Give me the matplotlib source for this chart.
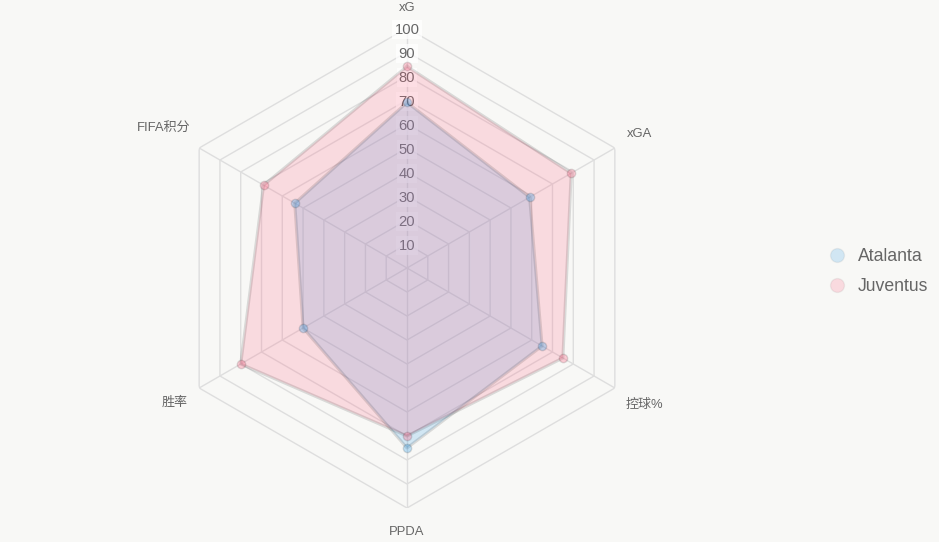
import numpy as np
import matplotlib
matplotlib.use("Agg")
import matplotlib.pyplot as plt
from matplotlib.lines import Line2D

plt.rcParams['font.family'] = ['Liberation Sans', 'Noto Sans CJK SC', 'DejaVu Sans']

# ---- data ----
categories = ['xG', 'xGA', '控球%', 'PPDA', '胜率', 'FIFA积分']
atalanta = [69, 59, 65, 75, 50, 54]
juventus = [84, 79, 75, 70, 80, 69]
series_names = ['Atalanta', 'Juventus']
tick_values = [10, 20, 30, 40, 50, 60, 70, 80, 90, 100]

# ---- style ----
bg = '#f8f8f6'
grid_c = '#dedede'
text_c = '#666666'
fills = [(54/255, 162/255, 235/255, 0.2), (255/255, 99/255, 132/255, 0.2)]
pts = [(54/255, 162/255, 235/255, 0.3), (255/255, 99/255, 132/255, 0.3)]
border = (0, 0, 0, 0.12)

W, H = 939, 542
fig = plt.figure(figsize=(W/100, H/100), dpi=100, facecolor=bg)
cx, cy, R = 407, 268, 240
ax = fig.add_axes([(cx-R)/W, (H-cy-R)/H, 2*R/W, 2*R/H], projection='polar')
ax.set_facecolor('none')
ax.set_theta_offset(np.pi/2)
ax.set_theta_direction(-1)
ax.set_ylim(0, 100)
ax.grid(False)
ax.spines['polar'].set_visible(False)
ax.set_xticks([])
ax.set_yticks([])

n = len(categories)
theta = np.arange(n) * 2*np.pi/n
theta_c = np.append(theta, theta[0])

# hexagon grid
for t in tick_values:
    ax.plot(theta_c, [t]*(n+1), color=grid_c, lw=1, zorder=1)
for th in theta:
    ax.plot([th, th], [0, 100], color=grid_c, lw=1, zorder=1)

# radial tick labels (drawn beneath the datasets)
for t in tick_values:
    ax.text(0, t, str(t), ha='center', va='center_baseline', fontsize=10.6, color=text_c,
            zorder=1.5, bbox=dict(boxstyle='square,pad=0.15', fc='white', ec='none', alpha=0.75))

for vals, fc, pc in zip([atalanta, juventus], fills, pts):
    v = np.append(vals, vals[0])
    ax.fill(theta_c, v, color=fc, lw=0, zorder=2)
    ax.plot(theta_c, v, color=border, lw=2.2, zorder=3)
    ax.plot(theta, vals, 'o', ms=6, mfc=pc, mec=border, mew=1, zorder=4, ls='none')

# category labels
label_r = [108.3, 112, 114, 110, 112, 117]
for th, lab, r in zip(theta, categories, label_r):
    ax.text(th, r, lab, ha='center', va='center', fontsize=9.4, color=text_c)

# legend
handles = [Line2D([], [], marker='o', ls='none', ms=10, mfc=fc, mec=(0, 0, 0, 0.05), mew=1)
           for fc in fills]
leg = fig.legend(handles, series_names, loc='center left', bbox_to_anchor=(0.8634, 0.499),
                 frameon=False, fontsize=12.7, labelcolor=text_c, handletextpad=0.55,
                 labelspacing=0.75, handlelength=1.2)

fig.savefig('out.png', dpi=100, facecolor=bg)
